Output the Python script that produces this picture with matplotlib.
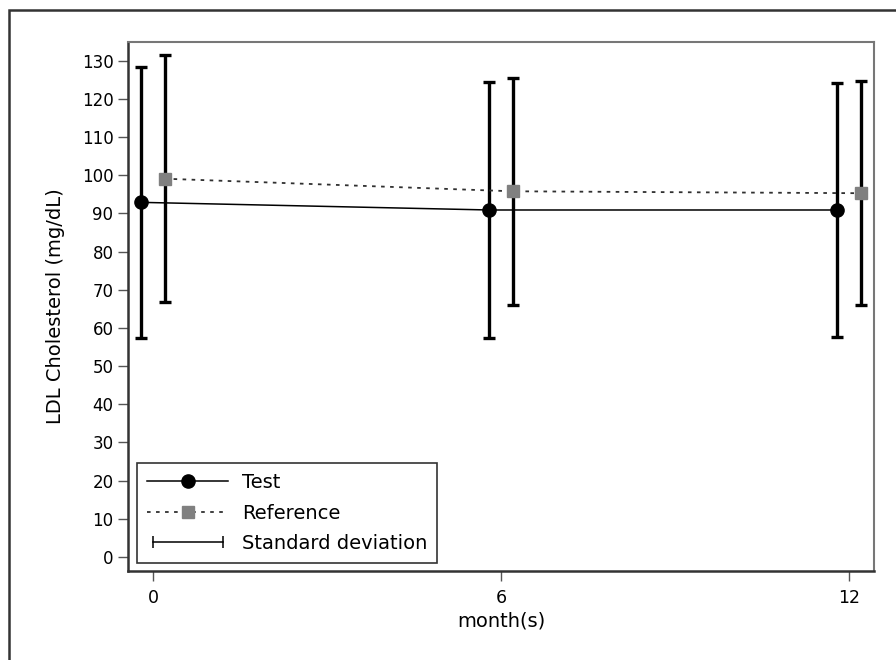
import numpy as np
import matplotlib
matplotlib.use('Agg')
import matplotlib.pyplot as plt
from matplotlib.lines import Line2D
from matplotlib.patches import Rectangle
from matplotlib.legend_handler import HandlerLine2D

# Data (LDL cholesterol, mg/dL)
months = np.array([0, 6, 12])
test_mean = np.array([92.9, 90.9, 90.9])
test_sd = np.array([35.5, 33.5, 33.2])
ref_mean = np.array([99.1, 95.8, 95.3])
ref_sd = np.array([32.4, 29.7, 29.4])
yticks = np.arange(0, 131, 10)

plt.rcParams['font.family'] = 'DejaVu Sans'
plt.rcParams['font.size'] = 11.5

W, H = 896, 660
fig = plt.figure(figsize=(W / 100, H / 100), dpi=100)
ax = fig.add_axes([128 / W, 1 - 571 / H, (874 - 128) / W, (571 - 41.7) / H])

# outer frame
fig.patches.append(Rectangle((9 / W, -0.1), 1.2, 1.1 - 10 / H, transform=fig.transFigure,
                             fill=False, edgecolor='#333333', linewidth=1.8))

off = 0.2
ax.errorbar(months - off, test_mean, yerr=test_sd, fmt='none', ecolor='black',
            elinewidth=2.4, capsize=4.5, capthick=2.4, zorder=2)
ax.errorbar(months + off, ref_mean, yerr=ref_sd, fmt='none', ecolor='black',
            elinewidth=2.4, capsize=4.5, capthick=2.4, zorder=2)
ax.plot(months - off, test_mean, color='black', lw=1.1, marker='o', markersize=9.5, zorder=3)
ax.plot(months + off, ref_mean, color='#303030', lw=1.3, ls=(0, (2, 3)), marker='s',
        markersize=9, markerfacecolor='#808080', markeredgecolor='#808080', zorder=3)

ax.set_xlim(-0.43, 12.43)
ax.set_ylim(-3.7, 135)
ax.set_xticks(months)
ax.set_yticks(yticks)
ax.tick_params(axis='both', direction='out', length=7, color='#555555', width=1)
ax.tick_params(axis='y', labelsize=12)
ax.tick_params(axis='x', pad=6, labelsize=12.5)
for s in ['left', 'bottom']:
    ax.spines[s].set_color('#333333')
    ax.spines[s].set_linewidth(1.8)
for s in ['top', 'right']:
    ax.spines[s].set_color('#777777')
    ax.spines[s].set_linewidth(1.5)

ax.set_ylabel('LDL Cholesterol (mg/dL)', fontsize=14, labelpad=12)
ax.set_xlabel('month(s)', fontsize=14, labelpad=3)

h_test = Line2D([], [], color='black', lw=1.1, marker='o', markersize=9.5)
h_ref = Line2D([], [], color='#303030', lw=1.3, ls=(0, (2, 3)), marker='s', markersize=9,
               markerfacecolor='#808080', markeredgecolor='#808080')
h_sd = Line2D([], [], color='black', lw=1.1, marker='|', markersize=8, markeredgewidth=1.1)
leg = ax.legend([h_test, h_ref, h_sd], ['Test', 'Reference', 'Standard deviation'],
                loc='lower left', bbox_to_anchor=(9 / 746, 8 / 529.3), borderaxespad=0,
                fontsize=14, handlelength=4.2, handletextpad=0.7, labelspacing=0.6,
                borderpad=0.5, fancybox=False, framealpha=1, edgecolor='#333333',
                numpoints=1, handler_map={h_sd: HandlerLine2D(numpoints=2)})
leg.get_frame().set_linewidth(1.2)

fig.savefig('out.png', dpi=100)
